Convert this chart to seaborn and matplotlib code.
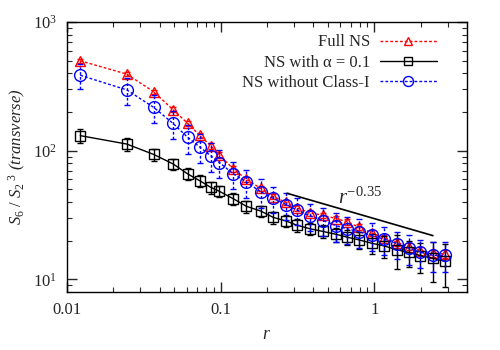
import numpy as np
import pandas as pd
import matplotlib
matplotlib.use("Agg")
import matplotlib.pyplot as plt
import seaborn as sns
from matplotlib.ticker import LogLocator, LogFormatterMathtext, NullFormatter, FixedLocator, FixedFormatter

# -------------------------
# Data
# -------------------------
r = [0.0122, 0.0245, 0.0367, 0.049, 0.061, 0.073, 0.086, 0.098, 0.121, 0.147,
     0.182, 0.219, 0.267, 0.313, 0.379, 0.462, 0.564, 0.665, 0.791, 0.962,
     1.16, 1.40, 1.67, 1.99, 2.39, 2.89]

full_ns = [500, 394, 287, 208, 163, 132, 109, 93, 72, 60,
           51, 44, 39.7, 36, 33, 31.5, 29.7, 28, 25.5, 23,
           21, 19.3, 18, 16.7, 16, 15.8]
full_ns_err = [20, 16, 12, 9, 7, 6, 5, 4.5, 3.5, 3,
               2.5, 2.2, 2, 1.8, 1.7, 1.6, 1.5, 1.5, 1.4, 1.3,
               1.2, 1.2, 1.1, 1.1, 1, 1]

ns_alpha = [131, 112.7, 93.5, 79, 66, 58.5, 52, 48.4, 42.3, 37,
            34, 30.4, 28.4, 26.4, 24.8, 23.6, 22.4, 21.3, 20.3, 19.1,
            18.2, 17, 16.2, 15.3, 14.6, 13.8]
ns_alpha_err = [16, 13, 10, 8, 7, 6, 5.5, 5, 4.5, 4,
                3.5, 3.3, 3, 3, 2.8, 2.8, 2.7, 2.8, 3, 3.3,
                3.5, 5, 3.8, 4, 5, 5]

ns_no_class1 = [386, 297, 217, 163, 127, 107, 91.5, 81, 66, 57,
                48, 42.7, 38.1, 34.7, 31.3, 28.7, 26.2, 24.7, 23.5, 22,
                20.5, 19, 17.5, 16.3, 15.4, 15.4]
ns_no_class1_err = [85, 70, 52, 40, 32, 27, 23, 20, 16, 14,
                    12, 10, 9, 8, 7.5, 7, 6.5, 6, 6, 5.5,
                    5, 4.5, 4.5, 4, 4, 4]

labels = ["Full NS", "NS with α = 0.1", "NS without Class-I"]

# guide line r^-0.35
guide_r = [0.27, 2.4]
guide_y = [46.7, 21.9]

# -------------------------
# Style
# -------------------------
sns.set_style("ticks")
plt.rcParams["font.family"] = ["Liberation Serif", "DejaVu Serif"]
plt.rcParams["mathtext.fontset"] = "custom"
plt.rcParams["mathtext.rm"] = "Liberation Serif"
plt.rcParams["mathtext.it"] = "Liberation Serif:italic"
plt.rcParams["mathtext.bf"] = "Liberation Serif:bold"

fig = plt.figure(figsize=(5, 3.5), dpi=100)
ax = fig.add_axes([0.134, 0.166, 0.80, 0.771])

dots = (0, (2, 1.5))
series = [
    (full_ns, full_ns_err, "red", "^", dots, 7.5),
    (ns_alpha, ns_alpha_err, "black", "s", "-", 7.5),
    (ns_no_class1, ns_no_class1_err, "blue", "o", dots, 8.5),
]

for (vals, errs, col, mk, ls, ms), lab in zip(series, labels):
    df = pd.DataFrame({"r": r, "val": vals})
    eb = ax.errorbar(r, vals, yerr=errs, fmt="none", ecolor=col, elinewidth=1,
                     capsize=2.2, capthick=1)
    eb[2][0].set_linestyle(ls)
    sns.lineplot(data=df, x="r", y="val", ax=ax, color=col, marker=mk,
                 markersize=ms, markerfacecolor="none", markeredgecolor=col,
                 markeredgewidth=1.0, linewidth=1, linestyle=ls, label=lab)

ax.plot(guide_r, guide_y, color="black", linewidth=1.2)
ax.text(0.58, 38.5, r"$r^{\mathit{-0.35}}$", fontsize=15, va="baseline")

ax.set_xscale("log")
ax.set_yscale("log")
ax.set_xlim(0.01, 4)
ax.set_ylim(8, 1000)

ax.xaxis.set_major_locator(FixedLocator([0.01, 0.1, 1]))
ax.xaxis.set_major_formatter(FixedFormatter(["0.01", "0.1", "1"]))
ax.xaxis.set_minor_locator(LogLocator(base=10, subs=np.arange(2, 10)))
ax.xaxis.set_minor_formatter(NullFormatter())
ax.yaxis.set_major_locator(LogLocator(base=10))
ax.yaxis.set_major_formatter(LogFormatterMathtext())
ax.yaxis.set_minor_locator(LogLocator(base=10, subs=np.arange(2, 10)))
ax.yaxis.set_minor_formatter(NullFormatter())

ax.tick_params(which="both", direction="in", top=True, right=True, labelsize=12)
ax.tick_params(which="major", length=7, width=1, pad=7)
ax.tick_params(which="minor", length=3.5, width=0.8)
for s in ax.spines.values():
    s.set_linewidth(1)
    s.set_color("black")

ax.set_xlabel(r"$r$", fontsize=13, labelpad=6)
ax.set_ylabel(r"$S_{\mathit{6}}\ /\ S_{\mathit{2}}{}^{\ \mathit{3}}$ (transverse)",
              fontsize=12, fontstyle="italic", labelpad=4)

ax.legend(loc="upper right", bbox_to_anchor=(0.945, 0.985), frameon=False,
          markerfirst=False, handlelength=3.4, handletextpad=0.6,
          borderpad=0, labelspacing=0.25, fontsize=12, markerscale=0.85)

plt.savefig("out.png", dpi=100)
